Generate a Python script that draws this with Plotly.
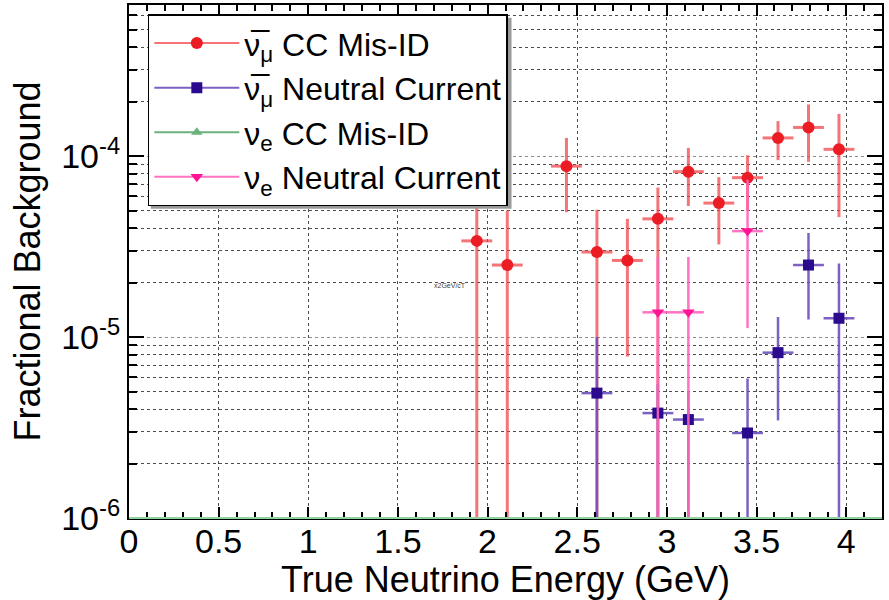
import plotly.graph_objects as go

# ---------------- data ----------------
bin_half_width = 0.086

red_x = [1.94, 2.11, 2.44, 2.61, 2.78, 2.95, 3.12, 3.29, 3.45, 3.62, 3.79, 3.96]
red_y = [3.4e-5, 2.5e-5, 8.8e-5, 2.95e-5, 2.65e-5, 4.5e-5, 8.2e-5, 5.5e-5, 7.6e-5, 1.26e-4, 1.44e-4, 1.09e-4]
red_hi = [6.65e-5, 5.0e-5, 1.26e-4, 5.05e-5, 4.5e-5, 6.7e-5, 1.11e-4, 7.65e-5, 1.01e-4, 1.56e-4, 1.93e-4, 1.71e-4]
red_lo = [1e-7, 1e-7, 4.9e-5, 1e-7, 7.8e-6, 1e-7, 5.3e-5, 3.25e-5, 5.0e-5, 9.5e-5, 9.3e-5, 4.6e-5]

nc_x = [2.61, 2.95, 3.12, 3.45, 3.62, 3.79, 3.96]
nc_y = [4.9e-6, 3.8e-6, 3.5e-6, 2.95e-6, 8.2e-6, 2.5e-5, 1.27e-5]
nc_hi = [1.0e-5, 5.5e-6, 5.0e-6, 5.9e-6, 1.29e-5, 3.76e-5, 2.55e-5]
nc_lo = [1e-7, 1e-7, 1e-7, 1e-7, 3.46e-6, 1.25e-5, 1e-7]

# nu_e CC Mis-ID: no entries above the axis floor
ene_x = [None]
ene_y = [None]

enc_x = [2.95, 3.12, 3.45]
enc_y = [1.37e-5, 1.37e-5, 3.85e-5]
enc_hi = [2.77e-5, 2.77e-5, 7.4e-5]
enc_lo = [1e-7, 1e-7, 1.12e-5]

names = [
    "ν\u0305<sub>μ</sub> CC Mis-ID",
    "ν\u0305<sub>μ</sub> Neutral Current",
    "ν<sub>e</sub> CC Mis-ID",
    "ν<sub>e</sub> Neutral Current",
]

y_tick_vals = [1e-6, 1e-5, 1e-4]
y_tick_text = ["10<sup>-6</sup>", "10<sup>-5</sup>", "10<sup>-4</sup>"]

FONT = "Liberation Sans, Arial, sans-serif"

fig = go.Figure()


def add_series(x, y, hi, lo, name, mcol, ecol, symbol, ewidth, msize):
    plus = [h - v for h, v in zip(hi, y)]
    minus = [v - l for v, l in zip(y, lo)]
    fig.add_trace(go.Scatter(
        x=x, y=y, mode="markers", showlegend=False,
        marker=dict(color=mcol, symbol=symbol, size=msize),
        error_y=dict(type="data", symmetric=False, array=plus, arrayminus=minus,
                     color=ecol, thickness=ewidth, width=0),
        error_x=dict(type="constant", value=bin_half_width,
                     color=ecol, thickness=ewidth, width=0),
    ))
    fig.add_trace(go.Scatter(
        x=[None], y=[None], mode="lines+markers", name=name,
        line=dict(color=ecol, width=2),
        marker=dict(color=mcol, symbol=symbol, size=msize),
    ))


add_series(red_x, red_y, red_hi, red_lo, names[0], "#ec1c24", "rgba(240,70,75,0.75)", "circle", 3, 12)
add_series(nc_x, nc_y, nc_hi, nc_lo, names[1], "#2b0a8e", "rgba(110,80,190,0.9)", "square", 2.5, 11)
fig.add_trace(go.Scatter(
    x=ene_x, y=ene_y, mode="lines+markers", name=names[2],
    line=dict(color="#6cb27c", width=2),
    marker=dict(color="#6cb27c", symbol="triangle-up", size=10),
))
add_series(enc_x, enc_y, enc_hi, enc_lo, names[3], "#ff1493", "rgba(255,100,190,0.9)", "triangle-down", 2.5, 11)

# minor log tick positions
minor_y = []
for dec in [1e-6, 1e-5, 1e-4]:
    for m in range(2, 10):
        minor_y.append(m * dec)

fig.update_layout(
    width=889, height=600,
    paper_bgcolor="white", plot_bgcolor="white",
    margin=dict(l=129, r=7, t=5, b=82, autoexpand=False),
    font=dict(family=FONT, size=34, color="black"),
    showlegend=True,
    legend=dict(
        x=0.025, y=0.982, xanchor="left", yanchor="top",
        bgcolor="white", bordercolor="black", borderwidth=1.5,
        font=dict(family=FONT, size=32, color="black"),
        itemwidth=85, tracegroupgap=0,
    ),
    xaxis=dict(
        range=[0, 4.2], dtick=0.5, tick0=0, automargin=False,
        ticks="inside", ticklen=11, tickcolor="black", tickwidth=1.5,
        showline=True, linecolor="black", linewidth=2, mirror="allticks",
        showgrid=True, gridcolor="rgba(0,0,0,0.7)", griddash="dot", gridwidth=1,
        zeroline=False,
        tickfont=dict(size=34), ticklabelstandoff=-8,
        title=dict(text="True Neutrino Energy (GeV)", font=dict(size=36), standoff=0),
        minor=dict(dtick=0.1, ticks="inside", ticklen=6, tickcolor="black", tickwidth=1.5, showgrid=False),
    ),
    yaxis=dict(
        type="log", range=[-6, -3.165], automargin=False,
        tickvals=y_tick_vals, ticktext=y_tick_text,
        ticks="inside", ticklen=15, tickcolor="black", tickwidth=1.5,
        showline=True, linecolor="black", linewidth=2, mirror="allticks",
        showgrid=True, gridcolor="rgba(0,0,0,0.45)", griddash="dot", gridwidth=1,
        tickfont=dict(size=34),
        title=dict(text="Fractional Background", font=dict(size=36), standoff=10),
        minor=dict(tickvals=minor_y, ticks="inside", ticklen=8, tickcolor="black", tickwidth=1.5,
                   showgrid=True, gridcolor="rgba(0,0,0,0.7)", griddash="dot", gridwidth=1),
    ),
)

# legend drop shadow
fig.add_shape(type="rect", xref="paper", yref="paper",
              x0=0.029, x1=0.508, y0=0.603, y1=0.975,
              line=dict(width=0), fillcolor="#9a9a9a", layer="above")

# green baseline (ν_e CC Mis-ID entries sit at the bottom edge)
fig.add_shape(type="line", xref="paper", yref="paper", x0=0, x1=1, y0=0, y1=0,
              line=dict(color="#8fd3a0", width=2), layer="above")

fig.add_annotation(x=1.79, y=-4.714, xref="x", yref="y", text="x2GeV/cT",
                   showarrow=False, font=dict(size=7, color="#444"))

fig.write_html("out.html", config={"displayModeBar": False},
               post_script="document.body.style.margin='0';")
